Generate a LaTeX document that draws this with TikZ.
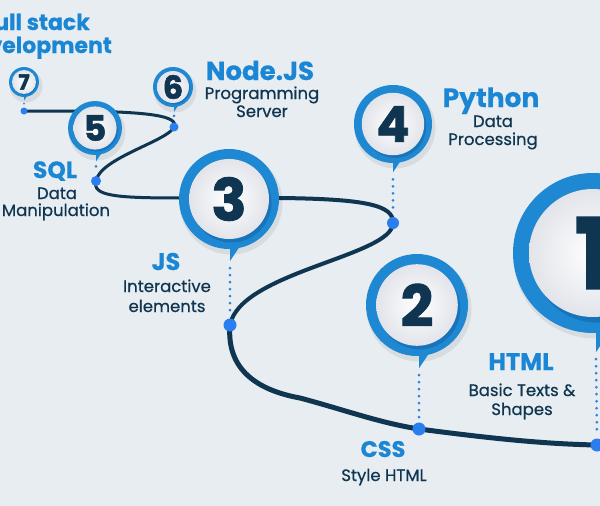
\documentclass[tikz,border=0pt]{standalone}
\usepackage{fontspec}
\setmainfont{Poppins}[BoldFeatures={FakeBold=0.5}]
\newfontfamily\medfont{Poppins}[FakeBold=0.6]
\newfontfamily\heavyfont{Poppins}[BoldFeatures={FakeBold=1.6}]
\usetikzlibrary{calc}
\definecolor{bg}{HTML}{E7EDF1}
\definecolor{ringblue}{HTML}{1E88D3}
\definecolor{ringdark}{HTML}{1670B6}
\definecolor{labelblue}{HTML}{1B87D4}
\definecolor{navy}{HTML}{0F3551}
\definecolor{dotblue}{HTML}{2B7EF0}
\definecolor{lineblue}{HTML}{2A86D8}
\definecolor{diskgray}{HTML}{E2E4EA}
\newcommand\fs[1]{\fontsize{#1}{#1}\selectfont}
\tikzset{
  road/.style={draw=navy, line cap=round},
  dotline/.style={draw=lineblue, line width=3pt, line cap=round, dash pattern=on 0pt off 7pt},
  pindot/.style={circle, fill=dotblue, inner sep=0pt},
  ringnode/.style={circle, fill=ringblue, inner sep=0pt},
  disknode/.style={circle, inner sep=0pt, inner color=white, outer color=diskgray, text=navy},
  headlabel/.style={text=labelblue, anchor=base, inner sep=0pt},
  sublabel/.style={text=navy, anchor=base, inner sep=0pt, font=\medfont\fs{16.5}},
}
\newcommand\mypin[7]{%
  \fill[black, opacity=0.07] (#2+2, #3+4) circle[radius=#4pt+1.5pt];
  \fill[ringblue] (#7, #3+0.8*#4) -- (#7+0.24*#4, #3+0.88*#4) -- (#7, #3+1.24*#4) -- cycle;
  \node[ringnode, minimum size=2*#4pt] (ring#1) at (#2,#3) {};
  \fill[ringdark, opacity=0.8] (#2+0.05*#4, #3+0.07*#4) circle[radius=0.8*#4pt];
  \node[disknode, minimum size=1.6*#4pt, font=\heavyfont\bfseries\fs{#6}] (disk#1) at (#2,#3) {#5};
  \coordinate (tip#1) at (#7, #3+1.24*#4);
}
\begin{document}
\begin{tikzpicture}[x=1pt, y=-1pt]
\fill[bg] (0,0) rectangle (600,506);
\useasboundingbox (0,0) rectangle (600,506);

% dot positions
\coordinate (d1) at (597,445);
\coordinate (d2) at (419,429);
\coordinate (d3) at (230,325);
\coordinate (d4) at (393,223);
\coordinate (d5) at (96,181);
\coordinate (d6) at (174,127);
\coordinate (d7) at (24,111);
\coordinate (w1) at (80,111);
\coordinate (w2) at (182,198);
\coordinate (w3) at (280,198);
\coordinate (w4) at (300,398);

% road
\draw[road, line width=3pt] (d7) -- (w1) .. controls (150,112) and (179,116) .. (d6)
  .. controls (168,141) and (100,158) .. (d5) .. controls (92,196) and (115,198) .. (w2);
\draw[road, line width=4pt] (w2) -- (w3) .. controls (365,199) and (394,205) .. (d4)
  .. controls (393,256) and (240,272) .. (d3);
\draw[road, line width=5pt] (d3) .. controls (227,360) and (245,388) .. (w4)
  .. controls (345,410) and (380,423) .. (d2) .. controls (480,437) and (540,444) .. (d1);

% pins
\mypin{1}{593}{253}{80}{1}{98}{596}
\mypin{2}{417}{305}{51}{2}{57}{419}
\mypin{3}{229}{199}{50}{3}{58}{230}
\mypin{4}{393}{124}{39}{4}{49}{393}
\mypin{5}{95}{128}{27}{5}{35}{96}
\mypin{6}{173}{87}{20}{6}{32}{174}
\mypin{7}{24}{82}{15}{7}{21}{24}

% dotted leaders
\draw[dotline] ($(tip1)+(0,7)$) -- ($(d1)+(0,-10)$);
\draw[dotline] ($(tip2)+(0,7)$) -- ($(d2)+(0,-10)$);
\draw[dotline] ($(tip3)+(0,7)$) -- ($(d3)+(0,-10)$);
\draw[dotline] ($(tip4)+(0,7)$) -- ($(d4)+(0,-10)$);
\draw[dotline] ($(tip5)+(0,5)$) -- ($(d5)+(0,-8)$);
\draw[dotline] ($(tip6)+(0,4)$) -- ($(d6)+(0,-7)$);
\draw[dotline, line width=2pt, dash pattern=on 0pt off 4pt] ($(tip7)+(0,3)$) -- ($(d7)+(0,-5)$);

% dots
\node[pindot, minimum size=13pt] (p1) at (d1) {};
\node[pindot, minimum size=13pt] (p2) at (d2) {};
\node[pindot, minimum size=13pt] (p3) at (d3) {};
\node[pindot, minimum size=12pt] (p4) at (d4) {};
\node[pindot, minimum size=10pt] (p5) at (d5) {};
\node[pindot, minimum size=9pt] (p6) at (d6) {};
\node[pindot, minimum size=7pt] (p7) at (d7) {};

% labels
\node[headlabel, anchor=base east, font=\bfseries\fs{22}] (t7a) at (90,30) {Full stack};
\node[headlabel, anchor=base east, font=\bfseries\fs{22}] (t7b) at (112,53) {development};

\node[headlabel, font=\bfseries\fs{26}] (t6) at (260,80) {Node.JS};
\node[sublabel] (t6a) at (262,99) {Programming};
\node[sublabel] (t6b) at (262,117) {Server};

\node[headlabel, font=\bfseries\fs{26.5}] (t4) at (491,107) {Python};
\node[sublabel] (t4a) at (493,127) {Data};
\node[sublabel] (t4b) at (493,145) {Processing};

\node[headlabel, font=\bfseries\fs{23.5}] (t5) at (55,178) {SQL};
\node[sublabel] (t5a) at (57,199) {Data};
\node[sublabel] (t5b) at (56,216) {Manipulation};

\node[headlabel, font=\bfseries\fs{24}] (t3) at (166,270) {JS};
\node[sublabel] (t3a) at (167,292) {Interactive};
\node[sublabel] (t3b) at (167,312) {elements};

\node[headlabel, font=\bfseries\fs{24}] (t1) at (521,370) {HTML};
\node[sublabel] (t1a) at (522,396) {Basic Texts \&};
\node[sublabel] (t1b) at (522,415) {Shapes};

\node[headlabel, font=\bfseries\fs{22.5}] (t2) at (383,457) {CSS};
\node[sublabel] (t2a) at (384,481) {Style HTML};
\end{tikzpicture}
\end{document}
